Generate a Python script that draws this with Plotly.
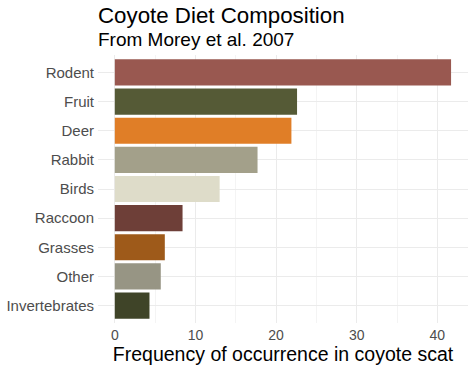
import plotly.graph_objects as go

categories = ["Rodent", "Fruit", "Deer", "Rabbit", "Birds", "Raccoon", "Grasses", "Other", "Invertebrates"]
values = [41.7, 22.6, 21.9, 17.7, 13.0, 8.4, 6.2, 5.7, 4.3]
colors = ["#995850", "#555A36", "#E07E27", "#A3A08A", "#DEDCC9", "#6E3F38", "#9E5A1A", "#979584", "#3F4428"]

W, H = 474, 369
L, R, T, B = 98, 6, 55, 46

fig = go.Figure(go.Bar(
    y=categories, x=values, orientation="h",
    marker=dict(color=colors, line=dict(width=0)),
    width=0.9,
))

font = "Liberation Sans, Arial, sans-serif"
fig.update_layout(
    width=W, height=H,
    margin=dict(l=L, r=R, t=T, b=B, autoexpand=False),
    plot_bgcolor="white", paper_bgcolor="white",
    font=dict(family=font),
    showlegend=False,
    bargap=0.1,
)
fig.update_xaxes(
    automargin=False,
    range=[-2.085, 43.8],
    tickvals=[0, 10, 20, 30, 40],
    tickfont=dict(size=14, color="#4D4D4D"),
    showgrid=True, gridcolor="#EBEBEB", gridwidth=1,
    minor=dict(tickvals=[5, 15, 25, 35], showgrid=True, gridcolor="#F4F4F4", gridwidth=1),
    zeroline=False, showline=False, ticks="", ticklabelstandoff=2,
    title=dict(text="Frequency of occurrence in coyote scat", font=dict(size=19.5, color="black"), standoff=4),
)
fig.update_yaxes(
    automargin=False,
    categoryorder="array", categoryarray=categories[::-1],
    range=[-0.6, 8.6],
    tickfont=dict(size=15, color="#4D4D4D"),
    showgrid=True, gridcolor="#EBEBEB", gridwidth=1,
    zeroline=False, showline=False, ticks="", ticklabelstandoff=3,
)

def py(px):
    return (H - B - px) / (H - T - B)

def pxx(px):
    return (px - L) / (W - L - R)

fig.add_annotation(text="Coyote Diet Composition", xref="paper", yref="paper",
                   x=pxx(96), y=py(15), xanchor="left", yanchor="middle",
                   showarrow=False, font=dict(size=22.3, color="black"))
fig.add_annotation(text="From Morey et al. 2007", xref="paper", yref="paper",
                   x=pxx(96), y=py(39), xanchor="left", yanchor="middle",
                   showarrow=False, font=dict(size=19, color="black"))

fig.write_html("out.html", config={"displayModeBar": False},
               post_script="document.body.style.margin='0';document.body.style.padding='0';")
